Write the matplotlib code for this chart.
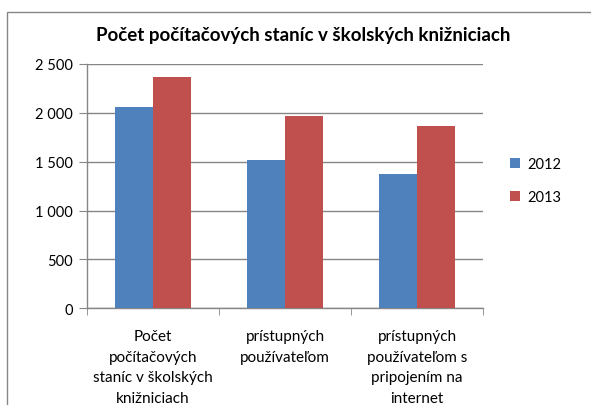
import matplotlib
matplotlib.use("Agg")
import matplotlib.pyplot as plt
from matplotlib.patches import Rectangle
from matplotlib.ticker import FuncFormatter
import numpy as np

plt.rcParams['font.family'] = ['Lato', 'DejaVu Sans']

title = "Počet počítačových staníc v školských knižniciach"
categories = ["Počet\npočítačových\nstaníc v školských\nknižniciach",
              "prístupných\npoužívateľom",
              "prístupných\npoužívateľom s\npripojením na\ninternet"]
series_names = ["2012", "2013"]
values_2012 = [2061, 1513, 1370]
values_2013 = [2367, 1972, 1870]
yticks = [0, 500, 1000, 1500, 2000, 2500]

W, H = 591, 406
fig = plt.figure(figsize=(W / 100, H / 100), dpi=100)

# chart frame
fig.patches.append(Rectangle((7 / W, -0.05), 1.2, 1 - 13 / H + 0.05, transform=fig.transFigure,
                             fill=False, edgecolor="#868686", linewidth=1.0))

ax = fig.add_axes([87 / W, 1 - 309.3 / H, (483 - 87) / W, (309.3 - 65) / H])
x = np.arange(len(categories))
bw = 1 / 3.5
colors = ["#4F81BD", "#C0504D"]
ax.bar(x - bw / 2, values_2012, width=bw, color=colors[0], label=series_names[0], zorder=3)
ax.bar(x + bw / 2, values_2013, width=bw, color=colors[1], label=series_names[1], zorder=3)

ax.set_xlim(-0.5, len(categories) - 0.5)
ax.set_ylim(0, 2500)
ax.set_yticks(yticks)
ax.yaxis.set_major_formatter(FuncFormatter(lambda v, p: f"{int(v):,}".replace(",", " ")))
ax.grid(axis="y", color="#868686", linewidth=1.0, zorder=0)
for s in ["top", "right"]:
    ax.spines[s].set_visible(False)
for s in ["left", "bottom"]:
    ax.spines[s].set_color("#868686")
    ax.spines[s].set_linewidth(1.0)
ax.tick_params(axis="y", length=6, color="#868686", labelsize=10.5, pad=4, labelcolor="black")

ax.set_xticks(x)
ax.set_xticklabels(categories, fontsize=11, linespacing=1.6)
ax.tick_params(axis="x", which="major", length=0, pad=15)
ax.set_xticks(np.arange(len(categories) + 1) - 0.5, minor=True)
ax.tick_params(axis="x", which="minor", length=5, color="#868686")

fig.text(303.5 / W, 1 - 36 / H, title, ha="center", va="center", fontsize=13.5, fontweight="bold")

leg = fig.legend(loc="upper left", bbox_to_anchor=(510 / W, 1 - 158 / H), frameon=False,
                 fontsize=10.5, handlelength=0.7, handleheight=0.7, handletextpad=0.5,
                 labelspacing=1.3, borderaxespad=0, borderpad=0)

fig.savefig("out.png", dpi=100)
